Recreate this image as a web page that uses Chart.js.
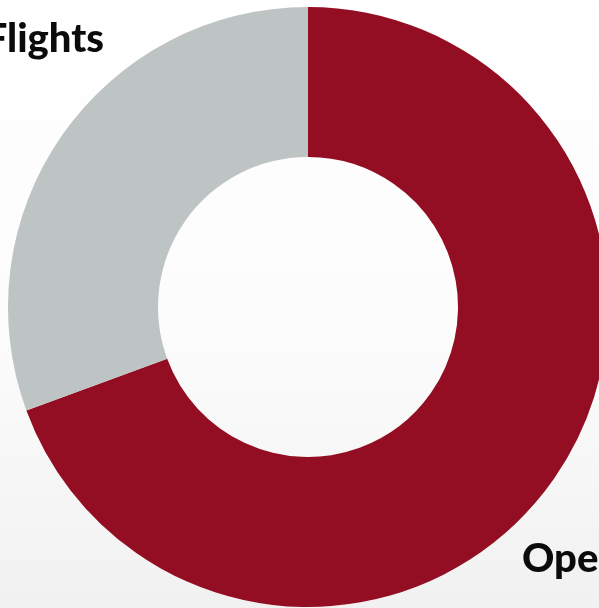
<!DOCTYPE html>
<html>
<head>
<meta charset="utf-8">
<script src="https://cdn.jsdelivr.net/npm/chart.js@4"></script>
<style>
  html, body { margin: 0; padding: 0; overflow: hidden; }
  body {
    width: 599px; height: 608px;
    background: linear-gradient(to bottom, #ffffff 0%, #fcfcfc 55%, #f2f1f1 100%);
  }
  #wrap { position: absolute; left: 0; top: 0; width: 620px; height: 608px; }
</style>
</head>
<body>
<div id="wrap"><canvas id="donutChart"></canvas></div>
<script>
const labels = ['Operations', 'Flights'];
const values = [69.4, 30.6];
const colors = ['#940e23', '#bec3c3'];

// draws the two big bold labels, partly clipped by the page edge
const cornerLabels = {
    id: 'cornerLabels',
    afterDraw(chart) {
        const ctx = chart.ctx;
        ctx.save();
        ctx.fillStyle = '#0b0b0b';
        ctx.font = '900 40px Lato, "Open Sans", sans-serif';
        ctx.textBaseline = 'alphabetic';
        ctx.textAlign = 'right';
        ctx.fillText(labels[1], 104, 52);
        ctx.textAlign = 'left';
        ctx.fillText(labels[0], 522, 572);
        ctx.restore();
    }
};

const ctx = document.getElementById('donutChart').getContext('2d');
new Chart(ctx, {
    type: 'doughnut',
    data: {
        labels: labels,
        datasets: [
            {
                data: values,
                backgroundColor: colors,
                borderWidth: 0
            }
        ]
    },
    options: {
        responsive: true,
        maintainAspectRatio: false,
        animation: false,
        cutout: '50%',
        layout: {
            padding: { left: 8, top: 7, right: 12, bottom: 1 }
        },
        plugins: {
            legend: { display: false },
            tooltip: { enabled: false }
        }
    },
    plugins: [cornerLabels]
});
</script>
</body>
</html>
